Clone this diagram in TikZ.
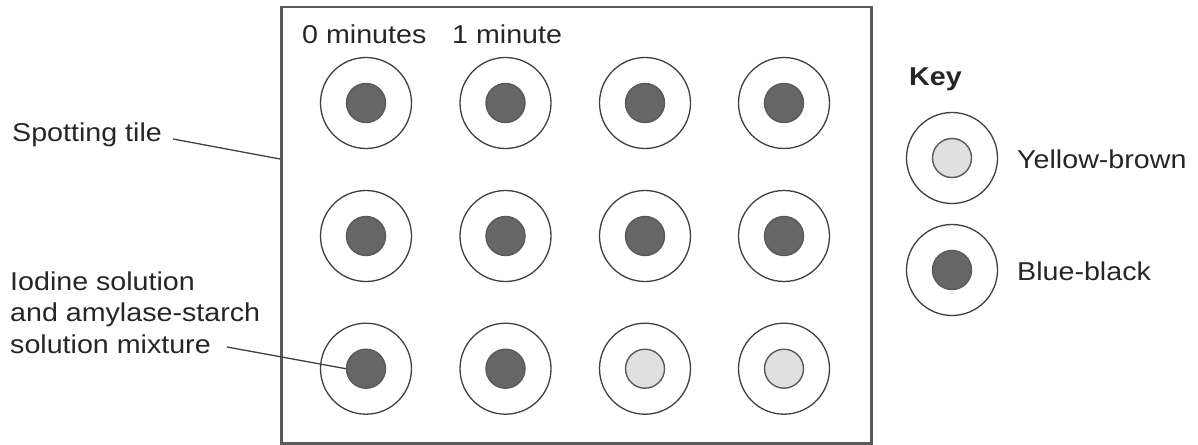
\documentclass[tikz,border=0pt]{standalone}
\usepackage{fontspec}
\setmainfont{Liberation Sans}[FakeStretch=1.11]
\begin{document}
\begin{tikzpicture}[x=1pt,y=-1pt,
  lbl/.style={anchor=base west,inner sep=0pt,font=\fontsize{25.8}{30}\selectfont,text=black!85},
  well/.style={circle,draw=black!75,line width=1.3pt,minimum size=91pt,inner sep=0pt,fill=white},
  dark/.style={circle,draw=black!65,line width=1.4pt,minimum size=39pt,inner sep=0pt,fill=black!60},
  light/.style={circle,draw=black!65,line width=1.4pt,minimum size=39pt,inner sep=0pt,fill=black!12},
  leader/.style={draw=black!75,line width=1.3pt}]
\useasboundingbox (0,0) rectangle (1198,444);
\node[draw=black!65,line width=2.5pt,minimum width=590pt,minimum height=436pt,inner sep=0pt,anchor=north west] (tile) at (280,6) {};
% wells
\foreach \c/\x in {1/366,2/505.5,3/645,4/784}{
  \foreach \r/\y in {1/103,2/236,3/368.7}{
    \node[well] (w\c\r) at (\x,\y) {};
  }
}
\foreach \c in {1,2,3,4}{\node[dark] (s\c1) at (w\c1) {}; \node[dark] (s\c2) at (w\c2) {};}
\node[dark] (s13) at (w13) {};
\node[dark] (s23) at (w23) {};
\node[light] (s33) at (w33) {};
\node[light] (s43) at (w43) {};
% labels
\node[lbl] (t0) at (302,43.3) {0 minutes};
\node[lbl] (t1) at (452,43.3) {1 minute};
\node[lbl] (spot) at (12,141) {Spotting tile};
\node[lbl] (io1) at (10,290) {Iodine solution};
\node[lbl] (io2) at (10,321.7) {and amylase-starch};
\node[lbl] (io3) at (10,353) {solution mixture};
% leaders
\coordinate (spA) at (173,139);
\coordinate (spB) at (280,159);
\draw[leader] (spA) -- (spB);
\coordinate (mxA) at (227,347);
\draw[leader] (mxA) -- (s13.west);
% key
\node[lbl,font=\fontsize{25.8}{30}\selectfont\bfseries] (key) at (909,85) {Key};
\node[well] (k1) at (952,158) {};
\node[light] (k1i) at (k1) {};
\node[well] (k2) at (952,270) {};
\node[dark] (k2i) at (k2) {};
\node[lbl] (kt1) at (1017,168.3) {Yellow-brown};
\node[lbl] (kt2) at (1017,280) {Blue-black};
\end{tikzpicture}
\end{document}
